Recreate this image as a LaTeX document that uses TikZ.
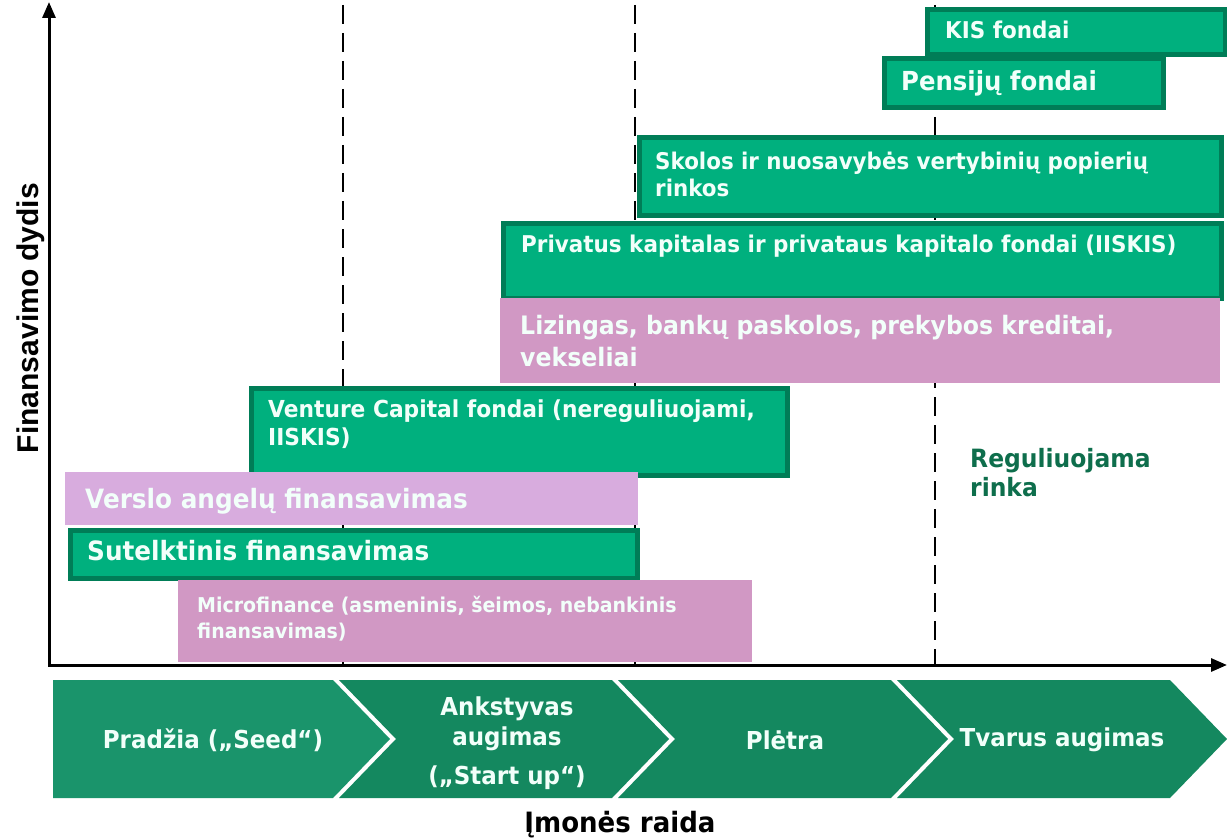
\documentclass[tikz,border=0pt]{standalone}
\usepackage{fontspec}
\setmainfont{DejaVu Sans}
\newfontfamily\boxfont{DejaVu Sans}[FakeStretch=0.93]
\newfontfamily\arialfont{Liberation Sans}
\usetikzlibrary{arrows.meta}
\definecolor{gfill}{HTML}{00B07E}
\definecolor{gborder}{HTML}{007D57}
\definecolor{pinkA}{HTML}{D198C4}
\definecolor{pinkB}{HTML}{D8ACDE}
\definecolor{chevA}{HTML}{1A946B}
\definecolor{chevB}{HTML}{14885F}
\definecolor{ltext}{HTML}{F2FFFA}
\definecolor{regc}{HTML}{0E6E4C}
\newcommand\fsx[2]{\fontsize{#1}{#2}\selectfont}
\begin{document}
\begin{tikzpicture}[x=1pt,y=-1pt,
  gbox/.style={draw=gborder, fill=gfill, line width=5pt, inner sep=0pt, anchor=north west},
  pbox/.style={fill=#1, inner sep=0pt, anchor=north west},
  btext/.style={text=ltext, inner sep=0pt, align=left},
  ctext/.style={text=ltext, inner sep=0pt, align=center, font=\boxfont\bfseries\fsx{24.7}{30}},
  vdash/.style={line width=2.2pt, dash pattern=on 19pt off 9pt},
  axisline/.style={line width=3pt, {Triangle[length=16pt,width=13pt]}-{Triangle[length=16pt,width=13pt]}},
]
\useasboundingbox (0,0) rectangle (1227,840);

% dashed phase separators
\coordinate (d1t) at (343,5);   \coordinate (d1b) at (343,665);
\coordinate (d2t) at (635,5);   \coordinate (d2b) at (635,665);
\coordinate (d3t) at (935,5);   \coordinate (d3b) at (935,665);
\draw[vdash] (d1t) -- (d1b);
\draw[vdash] (d2t) -- (d2b);
\draw[vdash] (d3t) -- (d3b);

% boxes
\node[gbox, minimum width=298pt, minimum height=45pt] (kis) at (924.5,7.5) {};
\node[gbox, minimum width=279pt, minimum height=49pt] (pens) at (881.5,56.5) {};
\node[gbox, minimum width=582pt, minimum height=77pt] (skol) at (636.5,135.5) {};
\node[gbox, minimum width=718pt, minimum height=75pt] (priv) at (500.5,220.5) {};
\node[pbox=pinkA, minimum width=720pt, minimum height=85pt] (liz) at (500,298) {};
\node[gbox, minimum width=536pt, minimum height=87pt] (vc) at (248.5,385.5) {};
\node[pbox=pinkB, minimum width=573pt, minimum height=53pt] (ang) at (65,472) {};
\node[gbox, minimum width=567pt, minimum height=48pt] (sut) at (67.5,527.5) {};
\node[pbox=pinkA, minimum width=574pt, minimum height=82pt] (mic) at (178,580) {};

% box texts
\node[btext, anchor=base west, font=\boxfont\bfseries\fsx{23.1}{28}] (kist) at (945,39) {KIS fondai};
\node[btext, anchor=base west, font=\boxfont\bfseries\fsx{26.2}{32}] (penst) at (901,91) {Pensijų fondai};
\node[btext, anchor=north west, font=\boxfont\bfseries\fsx{23}{27}] (skolt) at (655,152) {Skolos ir nuosavybės vertybinių popierių\\rinkos};
\node[btext, anchor=base west, font=\boxfont\bfseries\fsx{23.1}{27}] (privt) at (521,252) {Privatus kapitalas ir privataus kapitalo fondai (IISKIS)};
\node[btext, anchor=north west, font=\boxfont\bfseries\fsx{25.4}{32}] (lizt) at (520,315) {Lizingas, bankų paskolos, prekybos kreditai,\\vekseliai};
\node[btext, anchor=north west, font=\boxfont\bfseries\fsx{23.4}{28}] (vct) at (268,400) {Venture Capital fondai (nereguliuojami,\\IISKIS)};
\node[btext, anchor=base west, font=\boxfont\bfseries\fsx{26.6}{32}] (angt) at (85,508) {Verslo angelų finansavimas};
\node[btext, anchor=base west, font=\boxfont\bfseries\fsx{26.6}{32}] (sutt) at (87,560) {Sutelktinis finansavimas};
\node[btext, anchor=north west, font=\boxfont\bfseries\fsx{20.4}{26}] (mict) at (197,595.5) {Microfinance (asmeninis, šeimos, nebankinis\\finansavimas)};

\node[anchor=north west, inner sep=0pt, align=left, text=regc, font=\boxfont\bfseries\fsx{25.2}{29}] (reg) at (970,448) {Reguliuojama\\rinka};

% axes
\coordinate (ytop) at (49,2);
\coordinate (O) at (49,665);
\coordinate (xend) at (1227,665);
\draw[axisline] (ytop) -- (O) -- (xend);
\node[rotate=90, anchor=base, inner sep=0pt, font=\arialfont\bfseries\fsx{30}{34}] (ylab) at (38,318) {Finansavimo dydis};

% chevrons
\fill[chevA] (53,680) -- (333,680) -- (390,739) -- (333,798) -- (53,798) -- cycle;
\fill[chevB] (339,680) -- (612,680) -- (669,739) -- (612,798) -- (339,798) -- (396,739) -- cycle;
\fill[chevB] (618,680) -- (891,680) -- (948,739) -- (891,798) -- (618,798) -- (675,739) -- cycle;
\fill[chevB] (897,680) -- (1170,680) -- (1227,739) -- (1170,798) -- (897,798) -- (954,739) -- cycle;

\node[ctext] (c1) at (213,740) {Pradžia („Seed“)};
\node[ctext] (c2) at (507,743) {Ankstyvas\\augimas\\[9pt](„Start up“)};
\node[ctext] (c3) at (785,740) {Plėtra};
\node[ctext] (c4) at (1062,740) {Tvarus augimas};

\node[anchor=base, inner sep=0pt, font=\boxfont\bfseries\fsx{28}{32}] (xlab) at (620,832) {Įmonės raida};
\end{tikzpicture}
\end{document}
